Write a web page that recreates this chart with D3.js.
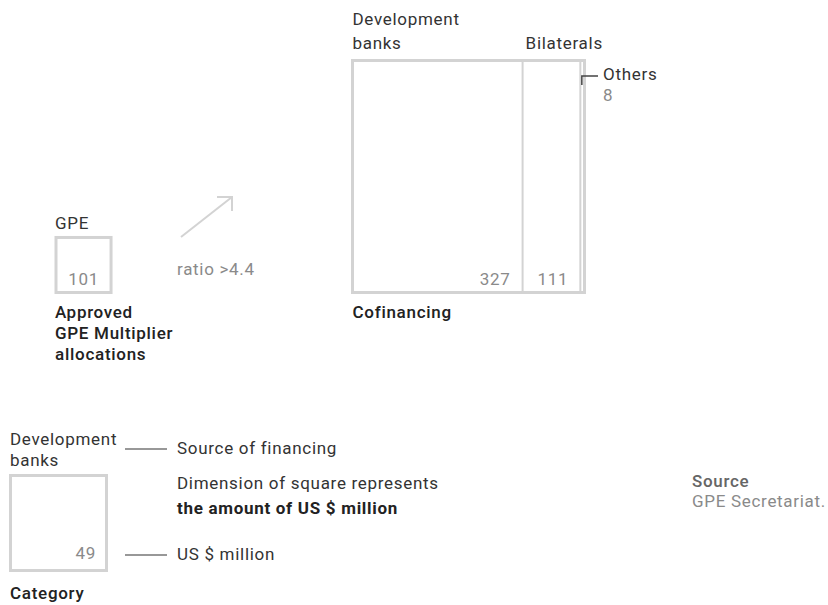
<!DOCTYPE html>
<html>
<head>
<meta charset="utf-8">
<script src="https://cdn.jsdelivr.net/npm/d3@7"></script>
<style>
  body { margin: 0; background: #fff; }
  svg text { font-family: Roboto, "DejaVu Sans", sans-serif; font-size: 17px; letter-spacing: 0.7px; }
  svg text.med { font-family: "Roboto Medium", Roboto, sans-serif; font-weight: 500; }
</style>
</head>
<body>
<svg id="chart"></svg>
<script>
const svgWidth = 828;
const svgHeight = 605;

// data
const sources = ["Development banks", "Bilaterals", "Others"];
const cofinancing = [327, 111, 8];
const gpeLabel = "GPE";
const gpeValue = 101;
const ratioLabel = "ratio >4.4";
const legendSource = "Development banks";
const legendValue = 49;

const boxColor = "#d3d3d3";
const darkText = "#333";
const greyText = "#8a8a8a";

const svg = d3.select("#chart")
    .attr("width", svgWidth)
    .attr("height", svgHeight);

const total = d3.sum(cofinancing);
// side length is proportional to amount
const side = d3.scaleLinear().domain([0, total]).range([0, 232]);

const baseY = 292.5;   // common bottom of the squares
const cofX = 352.5;

// --- cofinancing square
const cof = svg.append("g");
let acc = 0;
const segs = cofinancing.map((v, i) => {
    const s = {name: sources[i], value: v, x0: acc};
    acc += v;
    s.x1 = acc;
    return s;
});
const full = side(total);
cof.append("rect")
    .attr("x", cofX)
    .attr("y", baseY - full)
    .attr("width", full)
    .attr("height", full)
    .attr("fill", "none")
    .attr("stroke", boxColor)
    .attr("stroke-width", 3);
cof.selectAll("line.div")
    .data(segs.slice(0, -1))
    .join("line")
    .attr("class", "div")
    .attr("x1", d => cofX + side(d.x1))
    .attr("x2", d => cofX + side(d.x1))
    .attr("y1", baseY - full)
    .attr("y2", baseY)
    .attr("stroke", boxColor)
    .attr("stroke-width", 2);
cof.selectAll("text.val")
    .data(segs.slice(0, 2))
    .join("text")
    .attr("class", "val")
    .attr("x", d => cofX + side(d.x1) - 12)
    .attr("y", baseY - 8)
    .attr("text-anchor", "end")
    .attr("fill", greyText)
    .text(d => d.value);

// labels on top
cof.append("text")
    .attr("x", cofX)
    .attr("y", 25)
    .attr("fill", darkText)
    .selectAll("tspan")
    .data(["Development", "banks"])
    .join("tspan")
    .attr("x", cofX)
    .attr("dy", (d, i) => i ? 24 : 0)
    .text(d => d);
cof.append("text")
    .attr("x", cofX + side(segs[1].x0) + 3)
    .attr("y", 49)
    .attr("fill", darkText)
    .text(sources[1]);

// Others leader
const oX = cofX + side(segs[2].x0) + 1.5;
cof.append("path")
    .attr("d", `M${oX},85V76H598`)
    .attr("fill", "none")
    .attr("stroke", "#444")
    .attr("stroke-width", 1.5);
cof.append("text")
    .attr("x", 603)
    .attr("y", 80)
    .attr("fill", darkText)
    .text(sources[2]);
cof.append("text")
    .attr("x", 603)
    .attr("y", 101)
    .attr("fill", greyText)
    .text(segs[2].value);

cof.append("text")
    .attr("class", "med")
    .attr("x", cofX)
    .attr("y", 318)
    .attr("fill", "#222")
    .text("Cofinancing");

// --- GPE square
const gpeX = 56;
const gs = side(gpeValue) + 2.5;
const gpe = svg.append("g");
gpe.append("rect")
    .attr("x", gpeX)
    .attr("y", baseY - gs)
    .attr("width", gs)
    .attr("height", gs)
    .attr("fill", "none")
    .attr("stroke", boxColor)
    .attr("stroke-width", 3);
gpe.append("text")
    .attr("x", gpeX + gs - 12)
    .attr("y", baseY - 8)
    .attr("text-anchor", "end")
    .attr("fill", greyText)
    .text(gpeValue);
gpe.append("text")
    .attr("x", gpeX - 1)
    .attr("y", 229)
    .attr("fill", darkText)
    .text(gpeLabel);
gpe.append("text")
    .attr("class", "med")
    .attr("x", gpeX - 1)
    .attr("y", 318)
    .attr("fill", "#222")
    .selectAll("tspan")
    .data(["Approved", "GPE Multiplier", "allocations"])
    .join("tspan")
    .attr("x", gpeX - 1)
    .attr("dy", (d, i) => i ? 21 : 0)
    .text(d => d);

// arrow
svg.append("path")
    .attr("d", "M181,237L232,197M217,197H232V211")
    .attr("fill", "none")
    .attr("stroke", boxColor)
    .attr("stroke-width", 2);
svg.append("text")
    .attr("x", 177)
    .attr("y", 275)
    .attr("fill", greyText)
    .text(ratioLabel);

// --- legend
const leg = svg.append("g");
leg.append("text")
    .attr("x", 10)
    .attr("y", 445)
    .attr("fill", darkText)
    .selectAll("tspan")
    .data(["Development", "banks"])
    .join("tspan")
    .attr("x", 10)
    .attr("dy", (d, i) => i ? 21 : 0)
    .text(d => d);
leg.append("rect")
    .attr("x", 10.5)
    .attr("y", 475.5)
    .attr("width", 96)
    .attr("height", 95)
    .attr("fill", "none")
    .attr("stroke", boxColor)
    .attr("stroke-width", 3);
leg.append("text")
    .attr("x", 96)
    .attr("y", 559)
    .attr("text-anchor", "end")
    .attr("fill", greyText)
    .text(legendValue);
leg.append("text")
    .attr("class", "med")
    .attr("x", 10)
    .attr("y", 599)
    .attr("fill", "#222")
    .text("Category");

leg.selectAll("line.lead")
    .data([449, 555])
    .join("line")
    .attr("class", "lead")
    .attr("x1", 125)
    .attr("x2", 167)
    .attr("y1", d => d)
    .attr("y2", d => d)
    .attr("stroke", "#333")
    .attr("stroke-width", 1.2);
leg.append("text")
    .attr("x", 177)
    .attr("y", 454)
    .attr("fill", darkText)
    .text("Source of financing");
leg.append("text")
    .attr("x", 177)
    .attr("y", 560)
    .attr("fill", darkText)
    .text("US $ million");
leg.append("text")
    .attr("x", 177)
    .attr("y", 489)
    .attr("fill", darkText)
    .text("Dimension of square represents");
leg.append("text")
    .attr("x", 177)
    .attr("y", 514)
    .attr("font-weight", 700)
    .attr("fill", "#222")
    .text("the amount of US $ million");

// source
svg.append("text")
    .attr("class", "med")
    .attr("x", 692)
    .attr("y", 487)
    .attr("fill", "#666")
    .text("Source");
svg.append("text")
    .attr("x", 692)
    .attr("y", 507)
    .attr("fill", greyText)
    .text("GPE Secretariat.");
</script>
</body>
</html>
